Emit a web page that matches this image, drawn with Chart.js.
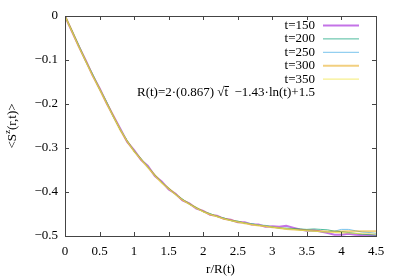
<!DOCTYPE html>
<html lang="en">
<head>
  <meta charset="UTF-8" />
  <title>S^z correlation</title>
  <script src="https://cdn.jsdelivr.net/npm/chart.js"></script>
  <style>
    body { margin: 0; background: #fff; }
    #wrap { width: 399px; height: 279px; }
  </style>
</head>
<body>
  <div id="wrap"><canvas id="grafik"></canvas></div>

  <script>
    // r/R(t) positions
    const rr = [0, 0.1, 0.2, 0.3, 0.4, 0.5, 0.6, 0.7, 0.8, 0.9, 1.0, 1.1, 1.2, 1.3, 1.4, 1.5,
      1.6, 1.7, 1.8, 1.9, 2.0, 2.1, 2.2, 2.3, 2.4, 2.5, 2.6, 2.7, 2.8, 2.9, 3.0,
      3.1, 3.2, 3.3, 3.4, 3.5, 3.6, 3.7, 3.8, 3.9, 4.0, 4.1, 4.2, 4.3, 4.4, 4.5];

    const t150 = [0, -0.035, -0.069, -0.101, -0.135, -0.164, -0.197, -0.227, -0.256, -0.286, -0.305,
      -0.327, -0.341, -0.364, -0.376, -0.394, -0.404, -0.419, -0.426, -0.438, -0.443, -0.452, -0.454,
      -0.461, -0.463, -0.469, -0.469, -0.474, -0.474, -0.479, -0.478, -0.479, -0.477, -0.481, -0.485,
      -0.488, -0.487, -0.490, -0.493, -0.497, -0.497, -0.495, -0.497, -0.498, -0.497, -0.499];
    const t200 = [0, -0.033, -0.068, -0.103, -0.133, -0.166, -0.195, -0.229, -0.259, -0.283, -0.308,
      -0.324, -0.344, -0.361, -0.379, -0.391, -0.406, -0.416, -0.428, -0.435, -0.445, -0.449, -0.456,
      -0.459, -0.465, -0.466, -0.471, -0.472, -0.476, -0.476, -0.480, -0.482, -0.482, -0.483, -0.484,
      -0.485, -0.484, -0.485, -0.486, -0.489, -0.490, -0.492, -0.494, -0.496, -0.497, -0.498];
    const t250 = [0, -0.034, -0.066, -0.102, -0.132, -0.165, -0.194, -0.229, -0.257, -0.284, -0.306,
      -0.325, -0.342, -0.363, -0.377, -0.393, -0.405, -0.417, -0.426, -0.437, -0.444, -0.450, -0.455,
      -0.460, -0.465, -0.468, -0.470, -0.472, -0.475, -0.476, -0.479, -0.482, -0.484, -0.485, -0.486,
      -0.488, -0.489, -0.490, -0.491, -0.489, -0.485, -0.485, -0.488, -0.491, -0.492, -0.494];
    const t300 = [0, -0.034, -0.069, -0.102, -0.135, -0.166, -0.197, -0.228, -0.259, -0.285, -0.307,
      -0.326, -0.344, -0.362, -0.379, -0.392, -0.405, -0.418, -0.427, -0.436, -0.444, -0.451, -0.455,
      -0.461, -0.464, -0.468, -0.471, -0.474, -0.476, -0.478, -0.480, -0.482, -0.484, -0.485, -0.486,
      -0.487, -0.488, -0.489, -0.490, -0.490, -0.490, -0.489, -0.489, -0.489, -0.489, -0.489];
    const t350 = [0, -0.035, -0.070, -0.103, -0.136, -0.166, -0.198, -0.229, -0.258, -0.285, -0.308,
      -0.326, -0.344, -0.363, -0.379, -0.393, -0.406, -0.418, -0.428, -0.437, -0.445, -0.451, -0.456,
      -0.461, -0.465, -0.468, -0.471, -0.474, -0.476, -0.478, -0.480, -0.482, -0.484, -0.485, -0.487,
      -0.488, -0.489, -0.490, -0.491, -0.492, -0.493, -0.493, -0.494, -0.495, -0.495, -0.496];

    const seriesNames = ['t=150', 't=200', 't=250', 't=300', 't=350'];
    const seriesData = [t150, t200, t250, t300, t350];
    const colors = ['rgba(148,0,211,0.55)', 'rgba(0,158,115,0.7)', 'rgba(86,180,233,0.8)',
      'rgba(230,159,0,0.5)', 'rgba(240,228,66,0.75)'];
    const widths = [2, 1, 1, 2, 1];

    const xTicks = [0, 0.5, 1, 1.5, 2, 2.5, 3, 3.5, 4, 4.5];
    const yTicks = [0, -0.1, -0.2, -0.3, -0.4, -0.5];
    const formula = 'R(t)=2·(0.867) √t  −1.43·ln(t)+1.5';

    const serif = '"Liberation Serif", "Times New Roman", serif';

    // gnuplot style frame, inner ticks, key and y label
    const gnuFrame = {
      id: 'gnuFrame',
      afterDatasetsDraw(chart) {
        const { ctx, chartArea: a, scales } = chart;
        ctx.save();
        ctx.strokeStyle = '#444';
        ctx.lineWidth = 1;
        ctx.beginPath();
        xTicks.forEach(v => {
          const px = Math.round(scales.x.getPixelForValue(v)) + 0.5;
          ctx.moveTo(px, a.bottom); ctx.lineTo(px, a.bottom - 4);
          ctx.moveTo(px, a.top); ctx.lineTo(px, a.top + 4);
        });
        yTicks.forEach(v => {
          const py = Math.round(scales.y.getPixelForValue(v)) + 0.5;
          ctx.moveTo(a.left, py); ctx.lineTo(a.left + 4, py);
          ctx.moveTo(a.right, py); ctx.lineTo(a.right - 4, py);
        });
        ctx.stroke();
        ctx.strokeRect(Math.round(a.left) + 0.5, Math.round(a.top) + 0.5,
          Math.round(a.right - a.left), Math.round(a.bottom - a.top));

        // key
        ctx.font = '13px ' + serif;
        ctx.fillStyle = '#000';
        ctx.textAlign = 'right';
        ctx.textBaseline = 'middle';
        seriesNames.forEach((n, i) => {
          const y = 25.5 + i * 13.4;
          ctx.fillText(n, 315, y);
          ctx.strokeStyle = colors[i];
          ctx.lineWidth = widths[i];
          ctx.beginPath();
          ctx.moveTo(323, y); ctx.lineTo(359, y);
          ctx.stroke();
        });
        ctx.textAlign = 'left';
        ctx.fillText(formula, 137, 93);
        // overline on the sqrt argument
        const pre = ctx.measureText('R(t)=2·(0.867) √').width;
        const tw = ctx.measureText('t').width;
        ctx.strokeStyle = '#000';
        ctx.lineWidth = 1;
        ctx.beginPath();
        ctx.moveTo(137 + pre, 86.5); ctx.lineTo(137 + pre + tw + 1, 86.5);
        ctx.stroke();

        // y axis label with superscript
        ctx.translate(13, (a.top + a.bottom) / 2);
        ctx.rotate(-Math.PI / 2);
        const p1 = '<S', p2 = 'z', p3 = '(r,t)>';
        ctx.font = '13px ' + serif;
        const w1 = ctx.measureText(p1).width, w3 = ctx.measureText(p3).width;
        ctx.font = '9px ' + serif;
        const w2 = ctx.measureText(p2).width;
        let x0 = -(w1 + w2 + w3) / 2;
        ctx.font = '13px ' + serif;
        ctx.fillText(p1, x0, 0);
        ctx.font = '9px ' + serif;
        ctx.fillText(p2, x0 + w1, -5);
        ctx.font = '13px ' + serif;
        ctx.fillText(p3, x0 + w1 + w2, 0);
        ctx.restore();
      }
    };

    const ctx = document.getElementById('grafik').getContext('2d');
    const chart = new Chart(ctx, {
      type: 'line',
      data: {
        datasets: seriesNames.map((n, i) => ({
          label: n,
          data: rr.map((x, k) => ({ x: x, y: seriesData[i][k] })),
          borderColor: colors[i],
          borderWidth: widths[i],
          pointRadius: 0,
          fill: false,
          tension: 0,
          order: seriesNames.length - i
        }))
      },
      options: {
        responsive: true,
        maintainAspectRatio: false,
        animation: false,
        layout: { padding: { left: 0, right: 23, top: 16, bottom: 0 } },
        plugins: { legend: { display: false }, tooltip: { enabled: false } },
        scales: {
          x: {
            type: 'linear',
            min: 0, max: 4.5,
            grid: { display: false, drawTicks: false },
            border: { display: false },
            afterBuildTicks: s => { s.ticks = xTicks.map(v => ({ value: v })); },
            ticks: {
              color: '#000', padding: 8, maxRotation: 0,
              font: { family: serif, size: 13 },
              callback: v => String(v)
            },
            title: {
              display: true, text: 'r/R(t)', color: '#000',
              font: { family: serif, size: 13 },
              padding: { top: 0, bottom: 2 }
            },
            afterFit: s => { s.height = 43; }
          },
          y: {
            min: -0.5, max: 0,
            grid: { display: false, drawTicks: false },
            border: { display: false },
            afterBuildTicks: s => { s.ticks = yTicks.map(v => ({ value: v })); },
            ticks: {
              color: '#000', padding: 7,
              font: { family: serif, size: 13 },
              callback: v => v === 0 ? '0' : '\u2212' + Math.abs(v).toFixed(1)
            },
            afterFit: s => { s.width = 65; }
          }
        }
      },
      plugins: [gnuFrame]
    });
  </script>
</body>
</html>
